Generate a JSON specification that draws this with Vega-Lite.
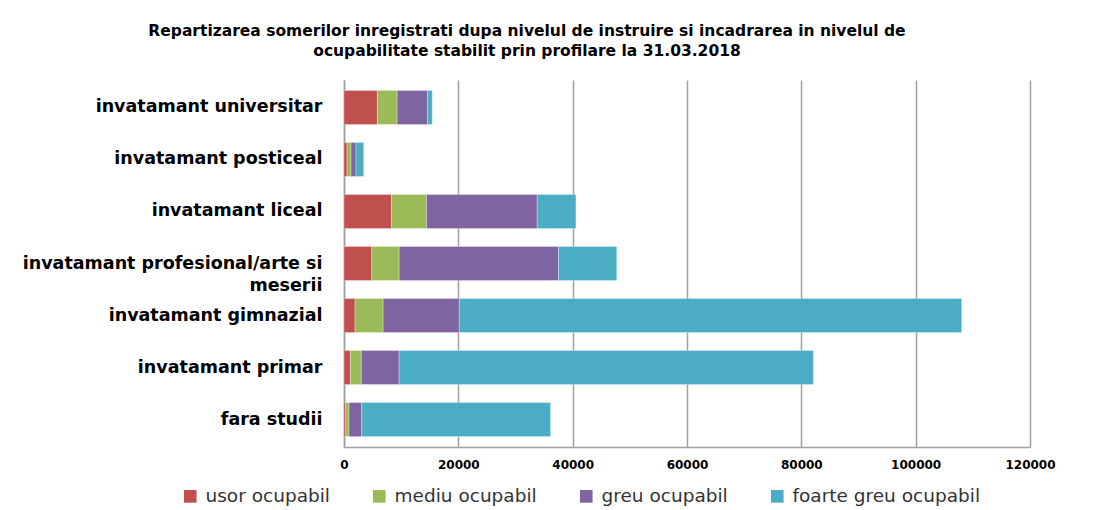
{
  "$schema": "https://vega.github.io/schema/vega-lite/v6.json",
  "autosize": {"type": "none"},
  "width": 686,
  "height": 367,
  "padding": {"left": 344, "top": 80, "right": 79, "bottom": 63},
  "background": "white",
  "title": {
    "text": ["Repartizarea somerilor inregistrati dupa  nivelul de instruire si incadrarea in nivelul de", "ocupabilitate stabilit prin profilare la 31.03.2018"],
    "anchor": "middle",
    "frame": "group",
    "dx": -160,
    "offset": 21,
    "font": "DejaVu Sans",
    "fontSize": 15.5,
    "fontWeight": "bold",
    "color": "#000000",
    "lineHeight": 20
  },
  "data": {
    "values": [
      {"cat": "invatamant universitar", "tip": "usor ocupabil", "val": 5840},
      {"cat": "invatamant universitar", "tip": "mediu ocupabil", "val": 3460},
      {"cat": "invatamant universitar", "tip": "greu ocupabil", "val": 5310},
      {"cat": "invatamant universitar", "tip": "foarte greu ocupabil", "val": 830},
      {"cat": "invatamant posticeal", "tip": "usor ocupabil", "val": 530},
      {"cat": "invatamant posticeal", "tip": "mediu ocupabil", "val": 700},
      {"cat": "invatamant posticeal", "tip": "greu ocupabil", "val": 870},
      {"cat": "invatamant posticeal", "tip": "foarte greu ocupabil", "val": 1350},
      {"cat": "invatamant liceal", "tip": "usor ocupabil", "val": 8300},
      {"cat": "invatamant liceal", "tip": "mediu ocupabil", "val": 6140},
      {"cat": "invatamant liceal", "tip": "greu ocupabil", "val": 19360},
      {"cat": "invatamant liceal", "tip": "foarte greu ocupabil", "val": 6770},
      {"cat": "invatamant profesional/arte si meserii", "tip": "usor ocupabil", "val": 4860},
      {"cat": "invatamant profesional/arte si meserii", "tip": "mediu ocupabil", "val": 4790},
      {"cat": "invatamant profesional/arte si meserii", "tip": "greu ocupabil", "val": 27890},
      {"cat": "invatamant profesional/arte si meserii", "tip": "foarte greu ocupabil", "val": 10170},
      {"cat": "invatamant  gimnazial", "tip": "usor ocupabil", "val": 1930},
      {"cat": "invatamant  gimnazial", "tip": "mediu ocupabil", "val": 4910},
      {"cat": "invatamant  gimnazial", "tip": "greu ocupabil", "val": 13330},
      {"cat": "invatamant  gimnazial", "tip": "foarte greu ocupabil", "val": 87880},
      {"cat": "invatamant primar", "tip": "usor ocupabil", "val": 1110},
      {"cat": "invatamant primar", "tip": "mediu ocupabil", "val": 1920},
      {"cat": "invatamant primar", "tip": "greu ocupabil", "val": 6620},
      {"cat": "invatamant primar", "tip": "foarte greu ocupabil", "val": 72450},
      {"cat": "fara studii", "tip": "usor ocupabil", "val": 300},
      {"cat": "fara studii", "tip": "mediu ocupabil", "val": 580},
      {"cat": "fara studii", "tip": "greu ocupabil", "val": 2220},
      {"cat": "fara studii", "tip": "foarte greu ocupabil", "val": 33030}
    ]
  },
  "transform": [
    {"calculate": "indexof(['usor ocupabil','mediu ocupabil','greu ocupabil','foarte greu ocupabil'], datum.tip)", "as": "ord"}
  ],
  "mark": {"type": "bar", "stroke": "white", "strokeWidth": 0.5, "strokeOpacity": 0.6},
  "encoding": {
    "y": {
      "field": "cat",
      "type": "nominal",
      "sort": ["invatamant universitar", "invatamant posticeal", "invatamant liceal", "invatamant profesional/arte si meserii", "invatamant  gimnazial", "invatamant primar", "fara studii"],
      "scale": {"paddingInner": 0.346, "paddingOuter": 0.2},
      "axis": {
        "title": null,
        "ticks": false,
        "domain": true,
        "domainColor": "#A0A0A0",
        "domainWidth": 1.5,
        "labelFont": "DejaVu Sans",
        "labelFontSize": 17.5,
        "labelFontWeight": "bold",
        "labelColor": "#000000",
        "labelPadding": 22,
        "labelLimit": 400,
        "labelLineHeight": 22,
        "labelExpr": "datum.label == 'invatamant profesional/arte si meserii' ? ['invatamant profesional/arte si', 'meserii'] : datum.label"
      }
    },
    "x": {
      "field": "val",
      "type": "quantitative",
      "stack": "zero",
      "scale": {"domain": [0, 120000], "nice": false},
      "axis": {
        "title": null,
        "values": [0, 20000, 40000, 60000, 80000, 100000, 120000],
        "format": "d",
        "ticks": false,
        "grid": true,
        "gridColor": "#A0A0A0",
        "gridWidth": 1.5,
        "domain": true,
        "domainColor": "#A0A0A0",
        "domainWidth": 1.5,
        "labelFont": "DejaVu Sans",
        "labelFontSize": 12,
        "labelFontWeight": "bold",
        "labelColor": "#000000",
        "labelPadding": 12,
        "labelFlush": false,
        "labelOverlap": false
      }
    },
    "color": {
      "field": "tip",
      "type": "nominal",
      "sort": ["usor ocupabil", "mediu ocupabil", "greu ocupabil", "foarte greu ocupabil"],
      "scale": {
        "domain": ["usor ocupabil", "mediu ocupabil", "greu ocupabil", "foarte greu ocupabil"],
        "range": ["#C0504D", "#9BBB59", "#8064A2", "#4BACC6"]
      },
      "legend": {
        "title": null,
        "orient": "none",
        "direction": "horizontal",
        "legendX": -163,
        "legendY": 407,
        "symbolType": "square",
        "symbolSize": 160,
        "symbolStrokeWidth": 0,
        "labelFont": "DejaVu Sans",
        "labelFontSize": 18.5,
        "labelColor": "#333333",
        "labelOffset": 6,
        "columnPadding": 40,
        "labelLimit": 300
      }
    },
    "order": {"field": "ord", "type": "quantitative"}
  },
  "config": {
    "view": {"stroke": null}
  }
}
